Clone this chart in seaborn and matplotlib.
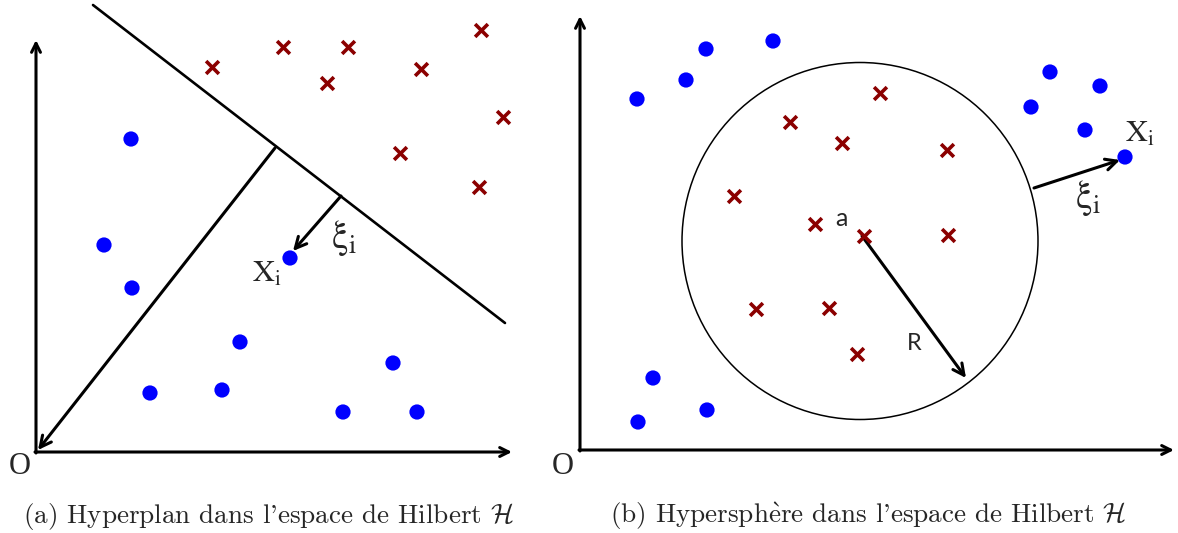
import matplotlib
matplotlib.use("Agg")
import matplotlib.pyplot as plt
from matplotlib.patches import Ellipse
import seaborn as sns

sns.set_style("white")

# panel (a): hyperplane, pixel coordinates of the picture
a_cross_x = [212, 283, 348, 327, 421, 481, 503, 400, 479]
a_cross_y = [67, 47, 47, 83, 69, 30, 117, 153, 187]
a_dot_x = [131, 104, 132, 290, 240, 150, 222, 393, 343, 417]
a_dot_y = [139, 245, 288, 258, 342, 393, 390, 363, 412, 412]

# panel (b): hypersphere
b_cross_x = [880, 790, 842, 947, 734, 815, 864, 948, 756, 829, 857]
b_cross_y = [93, 122, 143, 150, 196, 224, 236, 235, 309, 308, 354]
b_dot_x = [637, 686, 706, 773, 1050, 1100, 1031, 1085, 1125, 653, 707, 638]
b_dot_y = [99, 80, 49, 41, 72, 86, 107, 130, 157, 378, 410, 422]

captions = ["(a) Hyperplan dans l'espace de Hilbert $\\mathcal{H}$",
            "(b) Hypersph$\\grave{\\mathrm{e}}$re dans l'espace de Hilbert $\\mathcal{H}$"]

fig = plt.figure(figsize=(11.78, 5.33), dpi=100)
ax = fig.add_axes([0, 0, 1, 1])
ax.set_xlim(0, 1178)
ax.set_ylim(533, 0)
ax.axis("off")

blue = "#0000ff"
red = "#8b0000"

sns.scatterplot(x=a_dot_x + b_dot_x, y=a_dot_y + b_dot_y, color=blue, s=120,
                edgecolor="none", ax=ax, zorder=5)
sns.scatterplot(x=a_cross_x + b_cross_x, y=a_cross_y + b_cross_y, color=red,
                marker="x", s=85, linewidth=2.6, ax=ax, zorder=5)

def arrow(p0, p1, lw=2.2, ms=20):
    ax.annotate("", xy=p1, xytext=p0,
                arrowprops=dict(arrowstyle="->", lw=lw, color="black",
                                mutation_scale=ms, shrinkA=0, shrinkB=0))

# axes of panel (a)
arrow((36, 453), (36, 40), ms=16)
arrow((35, 452), (512, 452), ms=16)
# hyperplane and normal
ax.plot([93, 505], [5, 323], color="black", lw=1.9)
arrow((275, 148), (38, 450))
arrow((341, 196), (293, 251))

# axes of panel (b)
arrow((580, 451), (580, 16), ms=16)
arrow((579, 450), (1174, 450), ms=16)
ax.add_patch(Ellipse((860, 241), 356, 357, fill=False, lw=1.1, color="black"))
arrow((862, 236), (966, 378))
arrow((1034, 188), (1120, 160))

serif = ["Liberation Serif", "DejaVu Serif"]
ax.text(20, 467, "O", family=serif, fontsize=22, ha="center", va="center")
ax.text(563, 467, "O", family=serif, fontsize=22, ha="center", va="center")
xi_lab = "$\\mathrm{X}_{\\mathrm{i}}$"
ksi_lab = "$\\mathrm{\\xi}_{\\mathrm{i}}$"
ax.text(267, 273, xi_lab, math_fontfamily="stix", fontsize=22,
        ha="center", va="center")
ax.text(344, 238, ksi_lab, math_fontfamily="stix", fontsize=27,
        ha="center", va="center")
ax.text(1140, 134, xi_lab, math_fontfamily="stix", fontsize=22,
        ha="center", va="center")
ax.text(1088, 198, ksi_lab, math_fontfamily="stix", fontsize=27,
        ha="center", va="center")
ax.text(841, 219, "a", family=["Lato", "DejaVu Sans"], fontsize=18,
        ha="center", va="center")
ax.text(914, 343, "R", family=["Lato", "DejaVu Sans"], fontsize=17,
        ha="center", va="center")

ax.text(268, 516, captions[0], family=["cmr10", "DejaVu Serif"],
        math_fontfamily="cm", fontsize=19.5, ha="center", va="center")
ax.text(868, 516, captions[1], family=["cmr10", "DejaVu Serif"],
        math_fontfamily="cm", fontsize=19.5, ha="center", va="center")

fig.savefig("out.png", dpi=100)
